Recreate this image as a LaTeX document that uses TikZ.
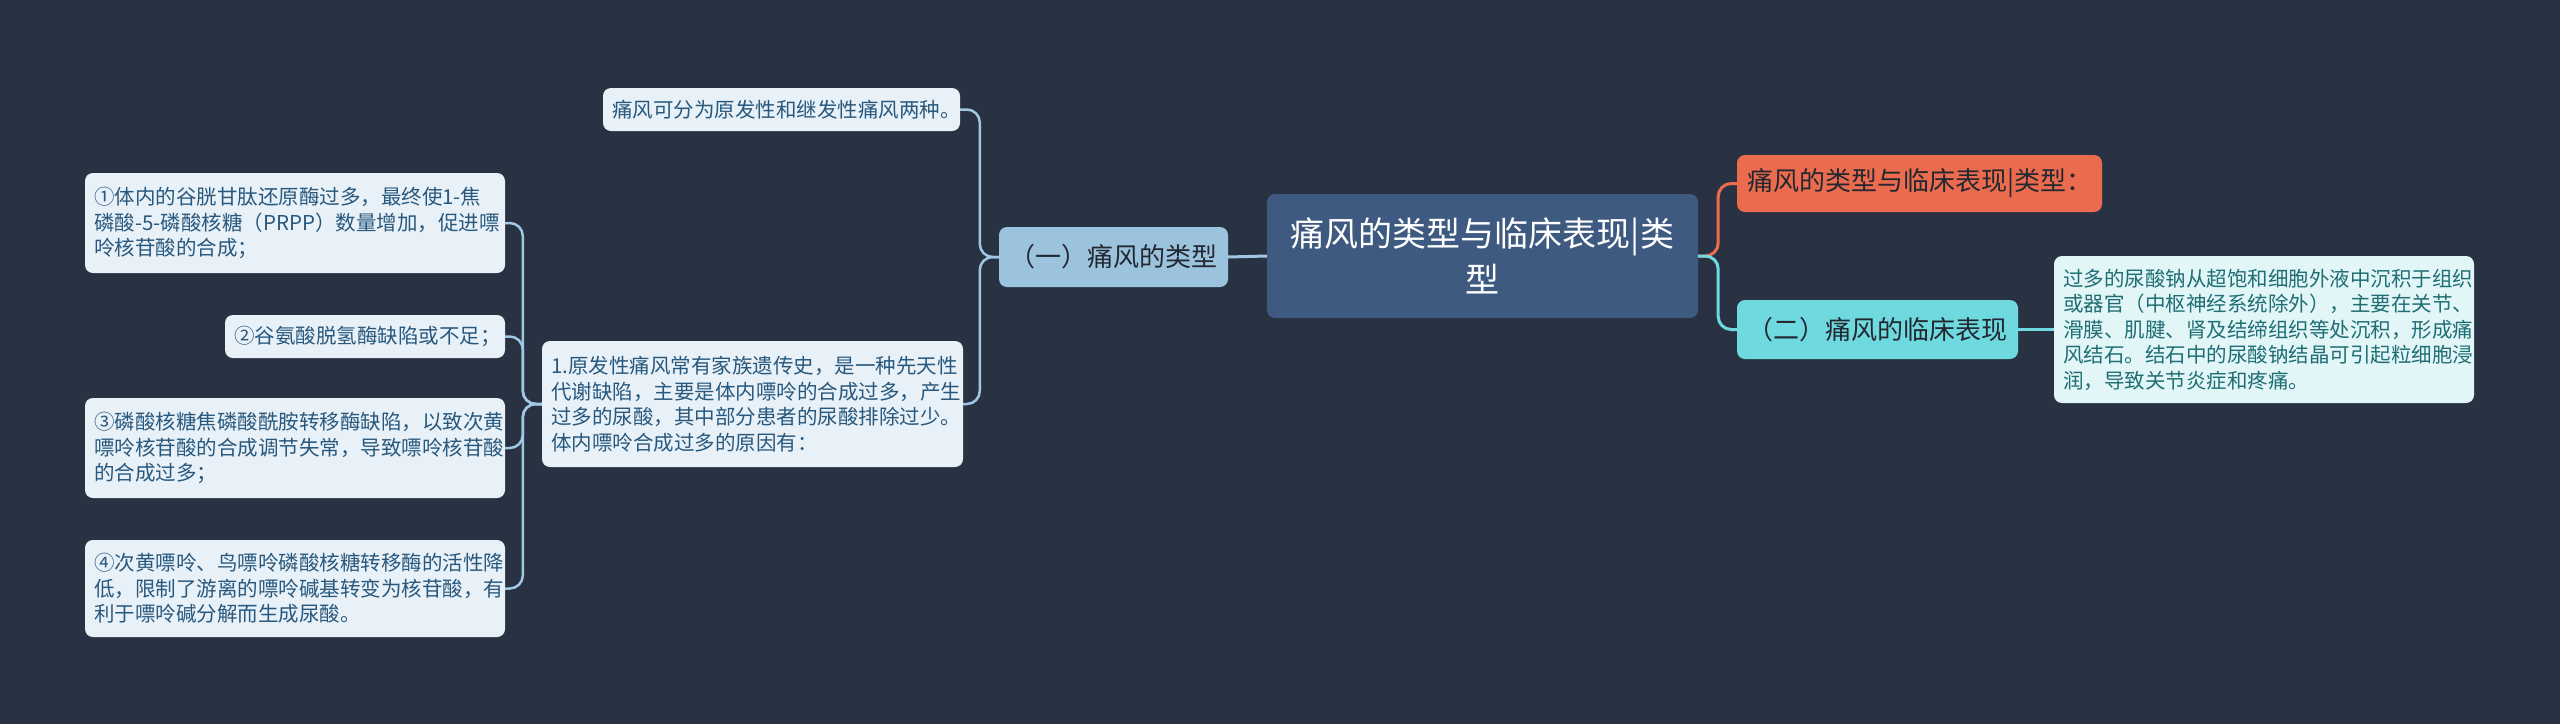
\documentclass[tikz,border=0pt]{standalone}
\usepackage{fontspec}
\setmainfont{Noto Sans CJK SC}
\definecolor{bg}{RGB}{41,50,66}
\definecolor{rootfill}{RGB}{62,90,128}
\definecolor{bluefill}{RGB}{156,195,222}
\definecolor{lightfill}{RGB}{233,241,248}
\definecolor{lighttext}{RGB}{40,88,125}
\definecolor{orangefill}{RGB}{234,107,78}
\definecolor{cyanfill}{RGB}{110,218,224}
\definecolor{detailfill}{RGB}{226,246,248}
\definecolor{detailtext}{RGB}{30,110,115}
\definecolor{darktext}{RGB}{35,40,48}
\definecolor{bluelink}{RGB}{160,200,226}
\tikzset{
  box/.style={rounded corners=8pt, inner sep=0pt, anchor=center},
  rootbox/.style={box, fill=rootfill, text=white, align=center, text width=410pt,
    font=\fontsize{34}{46}\selectfont},
  midbox/.style={box, text=darktext, align=center, font=\fontsize{26}{30}\selectfont},
  smallbox/.style={box, fill=lightfill, text=lighttext, align=left,
    font=\fontsize{20.5}{25.5}\selectfont},
  detailbox/.style={box, fill=detailfill, text=detailtext, align=left,
    font=\fontsize{20.5}{25.5}\selectfont},
  bluelinkstyle/.style={draw=bluelink, line width=2.5pt, rounded corners=13pt},
  orangelink/.style={draw=orangefill, line width=3pt, rounded corners=13pt},
  cyanlink/.style={draw=cyanfill, line width=3pt, rounded corners=13pt},
}
\begin{document}
\begin{tikzpicture}[x=1pt,y=-1pt]
\fill[bg] (0,0) rectangle (2560,724);
\useasboundingbox (0,0) rectangle (2560,724);

% root
\node[rootbox, minimum width=431pt, minimum height=124pt] (root) at (1482.5,256)
  {痛风的类型与临床表现|类\\型};

% left branch
\node[midbox, fill=bluefill, minimum width=229pt, minimum height=60pt] (t1) at (1113.5,257)
  {（一）痛风的类型};
\node[smallbox, minimum width=357pt, minimum height=43pt, text width=339pt] (a) at (781.5,109.5)
  {痛风可分为原发性和继发性痛风两种。};
\node[smallbox, minimum width=421pt, minimum height=126pt, text width=403pt] (b) at (752.5,404)
  {1.原发性痛风常有家族遗传史，是一种先天性\\代谢缺陷，主要是体内嘌呤的合成过多，产生\\过多的尿酸，其中部分患者的尿酸排除过少。\\体内嘌呤合成过多的原因有：};
\node[smallbox, minimum width=420pt, minimum height=100pt, text width=402pt] (c1) at (295,223)
  {①体内的谷胱甘肽还原酶过多，最终使1-焦\\磷酸-5-磷酸核糖（PRPP）数量增加，促进嘌\\呤核苷酸的合成；};
\node[smallbox, minimum width=280pt, minimum height=43pt, text width=262pt] (c2) at (365,336.5)
  {②谷氨酸脱氢酶缺陷或不足；};
\node[smallbox, minimum width=420pt, minimum height=100pt, text width=402pt] (c3) at (295,448)
  {③磷酸核糖焦磷酸酰胺转移酶缺陷，以致次黄\\嘌呤核苷酸的合成调节失常，导致嘌呤核苷酸\\的合成过多；};
\node[smallbox, minimum width=420pt, minimum height=97pt, text width=402pt] (c4) at (295,588.5)
  {④次黄嘌呤、鸟嘌呤磷酸核糖转移酶的活性降\\低，限制了游离的嘌呤碱基转变为核苷酸，有\\利于嘌呤碱分解而生成尿酸。};

% right branch
\node[midbox, fill=orangefill, minimum width=365pt, minimum height=57pt] (r1) at (1919.5,183.5)
  {痛风的类型与临床表现|类型：};
\node[midbox, fill=cyanfill, minimum width=281pt, minimum height=59pt] (r2) at (1877.5,329.5)
  {（二）痛风的临床表现};
\node[detailbox, minimum width=420pt, minimum height=147pt, text width=402pt] (r3) at (2264,329.5)
  {过多的尿酸钠从超饱和细胞外液中沉积于组织\\或器官（中枢神经系统除外），主要在关节、\\滑膜、肌腱、肾及结缔组织等处沉积，形成痛\\风结石。结石中的尿酸钠结晶可引起粒细胞浸\\润，导致关节炎症和疼痛。};

% connectors
\draw[bluelinkstyle, line width=3pt] (root.west) -- (t1.east);
\draw[bluelinkstyle] (t1.west) -- ++(-19,0) |- (a.east);
\draw[bluelinkstyle] (t1.west) -- ++(-19,0) |- (b.east);
\foreach \c in {c1,c2,c3,c4}{
  \draw[bluelinkstyle] (b.west) -- ++(-19,0) |- (\c.east);
}
\draw[orangelink] (root.east) -- ++(20,0) |- (r1.west);
\draw[cyanlink] (root.east) -- ++(20,0) |- (r2.west);
\draw[cyanlink] (r2.east) -- (r3.west);
\end{tikzpicture}
\end{document}
